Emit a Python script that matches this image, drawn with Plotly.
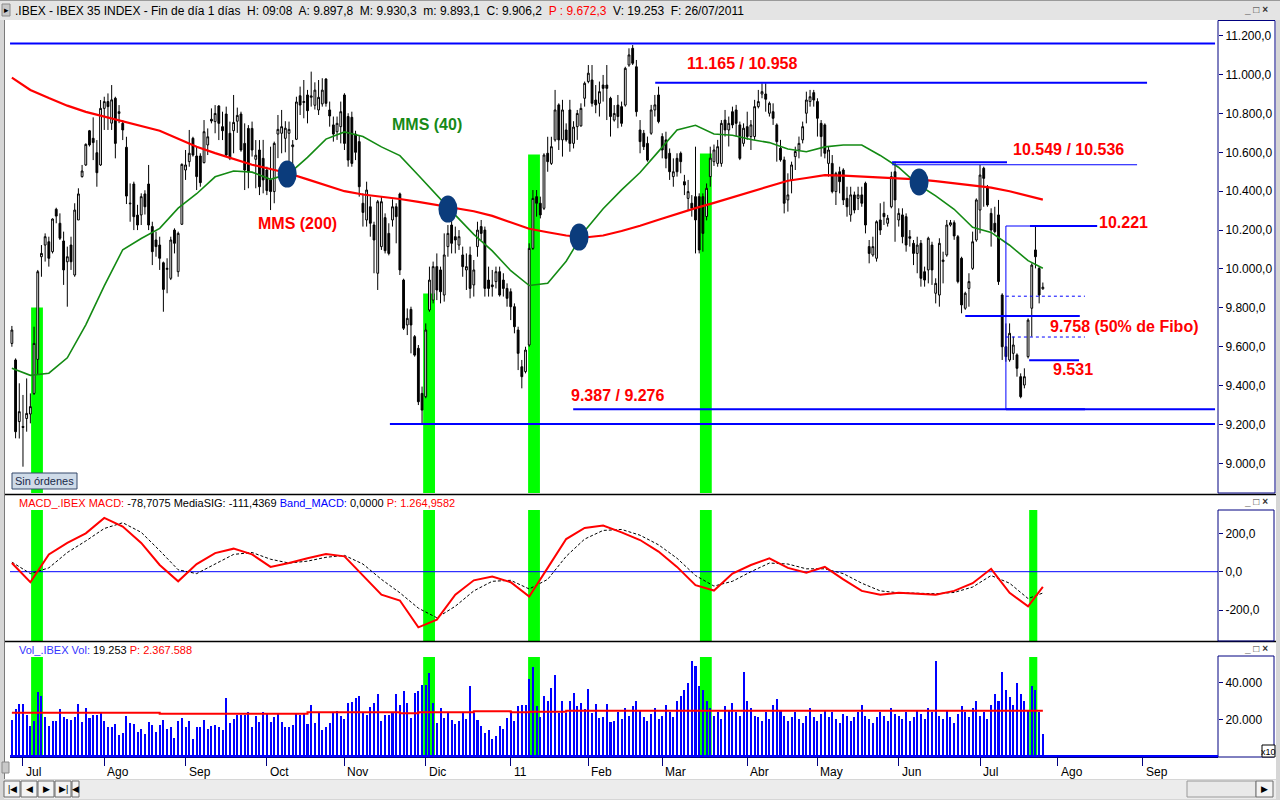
import plotly.graph_objects as go
import pandas as pd

W, H = 1280, 800
def px(x): return x / W
def py(y): return 1 - y / H

# ---------------- DATA ----------------
OPEN = [9617,9532,9215,9190,9231,9254,9360,9535,10063,10123,
10140,10089,10307,10235,10144,10037,10123,9969,10252,10475,
10535,10711,10672,10598,10535,10826,10861,10750,10878,10800,
10749,10626,10335,10437,10277,10278,10386,10437,10218,10149,
10123,10032,9998,9952,10200,9986,10230,10509,10552,10672,
10581,10581,10547,10638,10770,10758,10838,10732,10797,10698,
10711,10760,10797,10646,10723,10723,10564,10612,10569,10509,
10458,10398,10694,10698,10672,10698,10629,10667,10891,10856,
10895,10883,10842,10818,10849,10977,10818,10741,10706,10732,
10895,10784,10780,10694,10655,10338,10252,10320,10226,9978,
10115,10264,10183,10252,10320,10386,9943,9712,9792,9652,
9592,9360,9343,9789,9840,10012,9995,9866,10115,10226,
10166,10123,10072,9995,10072,9918,10115,10218,10200,9943,
9918,9935,9986,9943,9900,9883,9806,9686,9497,9472,
9609,10106,10372,10338,10312,10595,10543,10664,10844,10664,
10715,10818,10646,10732,10736,10878,10964,10972,10869,10852,
10946,10946,10878,10766,10843,10835,10843,11049,11135,11040,
10715,10698,10646,10698,10818,10895,10681,10664,10595,10475,
10569,10595,10449,10363,10338,10372,10372,10372,10270,10475,
10552,10543,10543,10766,10715,10809,10818,10741,10646,10732,
10681,10681,10835,10900,10900,10801,10809,10741,10621,10561,
10355,10458,10578,10612,10664,10801,10861,10907,10861,10749,
10741,10543,10543,10398,10500,10509,10363,10278,10381,10363,
10381,10441,10115,10072,10055,10252,10286,10235,10320,10500,
10252,10278,10269,10166,10132,10080,10132,9986,9995,10123,
9875,9866,10038,10072,10226,10238,10166,10055,9798,9900,
10003,10149,10303,10518,10423,10286,10235,10278,9866,9600,
9532,9566,9558,9446,9403,9549,9798,10098,10003,9897.8]
HIGH = [9707,9540,9412,9352,9437,9360,9703,9995,10123,10183,
10166,10260,10315,10286,10192,10115,10166,10338,10415,10535,
10646,10715,10780,10663,10869,10886,10903,10946,10886,10843,
10766,10680,10440,10449,10330,10389,10405,10535,10243,10192,
10166,10038,10055,10166,10209,10192,10543,10612,10715,10680,
10629,10595,10766,10723,10826,10843,10843,10809,10835,10758,
10895,10830,10809,10749,10740,10758,10663,10663,10664,10526,
10629,10655,10792,10818,10760,10758,10663,10886,10938,10972,
10921,11015,10960,10972,10981,10981,10861,10784,10784,10861,
10904,10801,10809,10711,10689,10389,10449,10372,10243,10355,
10372,10286,10235,10358,10338,10393,9950,9797,9806,9660,
9609,9395,9720,10012,10038,10080,10012,10183,10226,10252,
10218,10200,10115,10080,10115,10046,10243,10252,10218,10012,
9995,10012,10012,9978,9926,9900,9823,9703,9532,9600,
10132,10406,10406,10372,10595,10680,10680,10921,10852,10870,
10749,10870,10760,10818,10852,10964,11049,11049,10946,10964,
10998,11049,10886,10843,10895,10861,11040,11135,11152,11075,
10766,10715,10681,10844,10895,10938,10698,10706,10620,10569,
10595,10604,10484,10458,10380,10629,10389,10389,10440,10629,
10640,10664,10766,10818,10784,10835,10844,10758,10749,10809,
10766,10870,10921,10955,10955,10861,10852,10749,10664,10578,
10492,10552,10629,10681,10758,10912,10921,10921,10878,10766,
10749,10629,10586,10500,10526,10518,10423,10423,10398,10423,
10423,10449,10149,10166,10250,10338,10346,10278,10500,10552,
10312,10312,10286,10200,10149,10166,10149,10012,10166,10140,
9952,10158,10089,10252,10252,10250,10175,10063,9883,9978,
10192,10363,10535,10526,10432,10312,10320,10355,9875,9720,
9720,9652,9566,9463,9489,9746,10029,10226,10012,9930.3]
LOW = [9600,9129,9128,8983,9163,9206,9352,9455,9960,10038,
10012,10080,10235,10149,9918,9806,9995,9960,10252,10470,
10530,10630,10560,10423,10530,10715,10715,10715,10569,10750,
10663,10334,10243,10200,10200,10226,10280,10200,10020,10063,
9995,9780,9875,9943,10080,9960,10226,10458,10526,10578,
10406,10423,10543,10586,10749,10698,10663,10663,10578,10560,
10595,10700,10603,10406,10415,10578,10415,10380,10389,10380,
10303,10338,10570,10595,10600,10544,10492,10663,10792,10775,
10749,10835,10820,10792,10835,10835,10732,10655,10664,10646,
10612,10526,10526,10560,10372,10218,10218,10166,9978,9892,
10098,10080,10070,10218,10132,9969,9686,9660,9566,9549,
9300,9206,9335,9780,9823,9840,9823,9832,10063,10080,
10080,10098,9960,9892,9849,9858,10063,10149,9858,9858,
9858,9900,9858,9858,9806,9737,9669,9480,9386,9463,
9600,10098,10269,10260,10303,10500,10535,10655,10612,10578,
10655,10603,10620,10664,10732,10835,10955,10835,10801,10784,
10861,10766,10681,10758,10724,10732,10835,11040,11049,10784,
10595,10612,10552,10690,10784,10749,10569,10518,10458,10423,
10475,10492,10380,10303,10269,10080,10080,10089,10250,10423,
10530,10526,10526,10681,10630,10724,10681,10560,10630,10664,
10612,10664,10826,10878,10809,10784,10741,10552,10552,10286,
10295,10389,10509,10569,10646,10749,10835,10835,10681,10578,
10569,10475,10389,10329,10389,10329,10269,10243,10286,10303,
10320,10183,10029,10063,10038,10175,10226,10218,10312,10140,
10218,10132,10089,10115,10020,9978,9909,9909,9926,9918,
9823,9806,9926,10063,10218,10150,9926,9772,9790,9806,
9995,10140,10183,10320,10320,10115,10183,9918,9532,9523,
9523,9532,9446,9335,9386,9540,9652,10003,9823,9893.1]
CLOSE = [9686,9163,9266,9185,9257,9292,9617,9986,10080,10166,
10055,10257,10272,10158,9995,10063,10037,10303,10386,10504,
10641,10638,10650,10495,10826,10861,10835,10870,10646,10809,
10715,10375,10338,10269,10226,10372,10320,10226,10089,10115,
10055,9895,10003,10149,10132,10183,10538,10535,10595,10586,
10475,10444,10706,10680,10761,10800,10749,10711,10586,10569,
10754,10790,10612,10509,10500,10612,10585,10423,10458,10403,
10398,10646,10718,10732,10724,10718,10638,10859,10843,10861,
10814,10890,10920,10883,10920,10852,10787,10694,10749,10809,
10646,10560,10543,10600,10423,10291,10406,10235,10149,10346,
10346,10094,10080,10320,10269,9995,9695,9746,9712,9557,
9317,9274,9686,9943,10012,9892,9883,10072,10183,10132,
10149,10166,10012,10012,9900,9995,10200,10183,9900,9900,
9909,9986,9866,9900,9849,9806,9703,9566,9446,9583,
10106,10363,10338,10278,10586,10552,10629,10818,10664,10818,
10664,10646,10730,10800,10826,10955,11007,10852,10844,10912,
10929,10929,10784,10800,10784,10749,11032,11101,11058,10809,
10655,10629,10560,10818,10844,10758,10612,10569,10500,10500,
10500,10552,10432,10398,10312,10252,10098,10183,10415,10570,
10612,10629,10749,10715,10749,10741,10749,10569,10724,10681,
10741,10835,10861,10912,10873,10852,10775,10655,10561,10338,
10381,10535,10604,10646,10732,10869,10886,10869,10775,10681,
10595,10612,10398,10492,10449,10355,10320,10381,10303,10381,
10338,10226,10080,10115,10243,10200,10269,10261,10475,10355,
10286,10166,10123,10158,10080,10123,9952,9943,10158,9995,
9926,10132,10046,10226,10238,10170,9935,9815,9875,9935,
10140,10355,10483,10466,10329,10200,10192,9935,9600,9549,
9669,9609,9489,9343,9446,9737,10020,10063,9866,9906.2]
VOLUME = [19623,25450,28364,28364,22355,16345,19259,34919,32734,21080,
16345,19259,19259,25450,21444,20169,19623,21080,28364,18713,
26178,20534,22355,22355,24176,19259,15617,15617,17438,11429,
12704,21809,17802,17438,13250,14525,11975,18713,16892,13250,
16892,19623,14525,15617,9608,19259,20534,15617,19259,9062,
15617,15617,19623,14525,16345,16892,15981,14160,31459,17802,
20000,22355,22355,22355,23994,15617,21809,18713,23994,23265,
18713,21444,22901,18713,15981,15617,16892,23265,22355,23265,
17438,27818,18166,23265,14160,15617,18166,23265,24358,21809,
20169,29092,29638,31459,32734,23265,22355,26543,29092,33827,
19259,22355,22355,23994,33827,27818,35466,28728,20534,34191,
35648,38743,38743,45481,28728,18166,25996,20534,23265,19623,
17438,19259,23265,20169,38197,23265,19623,16345,12704,14160,
9062,10883,16345,14525,20534,24540,19259,27271,27818,27818,
41839,48395,27271,21080,32734,30185,37105,44206,23265,30185,
23629,30185,34191,27271,29092,25450,36376,23629,28364,20534,
21080,28364,18713,19259,
24000,20000,26000,22000,27000,30000,25000,21000,19000,23000,
26000,20000,22000,28000,24000,21000,30000,33000,36000,40000,
52000,49000,38000,36000,30000,26000,22000,24000,20000,27000,
25000,29000,24000,22000,46000,30000,
26000,22000,21000,19000,24000,20000,28000,31000,25000,22000,
19000,21000,24000,20000,18000,22000,26000,21000,19000,23000,
25000,21000,24000,20000,18000,23000,22000,19000,21000,24000,
28000,22000,20000,18000,21000,24000,22000,19000,26000,23000,
22000,20000,24000,19000,21000,25000,23000,20000,26000,24000,
52000,22000,20000,25000,21000,18000,23000,27000,24000,21000,
26000,30000,22000,24000,20000,28000,34000,30000,46000,36000,
32000,28000,40000,34000,30000,25000,38000,36000,24000,12000]

# indicators read every 5 sessions (+ last session)
MMS200 = [10984,10921,10879,10840,10808,10784,10760,10736,10711,10670,
10629,10596,10564,10536,10514,10491,10461,10431,10400,10383,
10372,10360,10345,10330,10315,10297,10273,10240,10207,10189,
10172,10162,10172,10195,10222,10253,10284,10313,10340,10369,
10398,10429,10454,10468,10483,10480,10475,10471,10466,10461,
10452,10441,10429,10418,10400,10378,10357]
MMS40 = [9489,9453,9464,9543,9713,9913,10099,10157,10209,10313,
10387,10474,10504,10498,10461,10490,10574,10668,10705,10681,
10628,10583,10482,10378,10277,10178,10093,9991,9915,9926,
10040,10196,10310,10407,10496,10605,10715,10739,10694,10688,
10666,10650,10617,10603,10628,10638,10638,10584,10522,10437,
10376,10307,10214,10188,10122,10043,10004]
MACD = [45,-55,90,150,200,280,235,150,35,-50,
40,97,120,90,25,45,70,92,80,-20,
-120,-150,-290,-250,-120,-45,-25,-55,-130,20,
170,228,240,205,165,105,25,-70,-98,-10,
35,70,20,-5,25,-40,-100,-120,-110,-115,
-120,-100,-60,15,-110,-180,-79]
MACD_SIG = [50,-10,20,100,160,225,255,205,110,10,
-10,40,90,100,65,45,55,75,85,40,
-40,-110,-190,-240,-180,-100,-50,-45,-90,-40,
80,170,215,220,190,140,70,-20,-75,-50,
0,45,40,15,15,-10,-60,-100,-110,-112,
-115,-108,-80,-20,-60,-140,-111]
VOL_AVG = [23630]*8 + [23080]*8 + [23810]*5 + [23270] + [23810]*3 + [24360]*2 + [23810] + [24180]*2 + [24720]*27

MONTH_LABELS = ["Jul","Ago","Sep","Oct","Nov","Dic","11","Feb","Mar","Abr","May","Jun","Jul","Ago","Sep"]
PRICE_TICKS = [9000,9200,9400,9600,9800,10000,10200,10400,10600,10800,11000,11200]
PRICE_TICKTEXT = ["9.000,0","9.200,0","9.400,0","9.600,0","9.800,0","10.000,0","10.200,0",
                  "10.400,0","10.600,0","10.800,0","11.000,0","11.200,0"]
MACD_TICKS = [-200,0,200]
MACD_TICKTEXT = ["-200,0","0,0","200,0"]
VOL_TICKS = [20000,40000]
VOL_TICKTEXT = ["20.000","40.000"]

# support / resistance levels (price, from session, to session, width)
LEVELS = [(11160,-0.5,325.6,2),(10958,174.1,307.2,2),(10549,238.2,269.3,2),(10536,238.2,304.5,1),
          (10221,275.5,293.7,2),(10221,269.0,275.5,1),(9758,258.0,289.0,2),(9531,275.3,288.8,2),
          (9279,269.0,290.4,2),(9279,151.9,325.6,2),(9202,102.3,325.6,2)]
FIBO_DASHED = [(9860,269.0,290.4),(9650,269.0,290.4)]
FIBO_VERT = (269.0, 9279, 10221)
CROSSES = [(74.5,10488),(118.0,10308),(153.5,10164),(245.5,10447)]
HIGHLIGHTS = [(6.8,9802,1.6),(112.9,9874,1.6),(141.3,10589,1.6),(187.8,10594,1.6),(276.4,None,1.1)]
LABELS = [("MMS (200)",77.4,10236,"#ff0000","center"),("MMS (40)",112.3,10745,"#178a17","center"),
          ("11.165 / 10.958",182.2,11055,"#ff0000","left"),("10.549 / 10.536",270.3,10615,"#ff0000","left"),
          ("10.221",293.7,10240,"#ff0000","left"),("9.758 (50% de Fibo)",280.5,9706,"#ff0000","left"),
          ("9.531",281.2,9485,"#ff0000","left"),("9.387 / 9.276",150.9,9350,"#ff0000","left")]

# ---------------- build ----------------
HOLIDAYS = pd.to_datetime(["2011-04-22", "2011-04-25"])
sessions = pd.bdate_range("2010-06-28", "2011-09-30")
sessions = sessions[~sessions.isin(HOLIDAYS)]
N = len(CLOSE)
xs = list(range(N))
month_idx = [i for i in range(1, len(sessions)) if sessions[i].month != sessions[i-1].month]
ma_x = list(range(0, N, 5)) + [N - 1]

XR = [-0.51, 326.4]
PR = [8847.7, 11280.6]
MR = [-361, 399.5]
VR = [-601, 61687]
FONT = "Arial, Liberation Sans, sans-serif"
NAVY = "#000080"

fig = go.Figure()
fig.add_trace(go.Candlestick(x=xs, open=OPEN, high=HIGH, low=LOW, close=CLOSE,
    increasing=dict(line=dict(color="black", width=1), fillcolor="white"),
    decreasing=dict(line=dict(color="black", width=1), fillcolor="black"),
    whiskerwidth=0, xaxis="x", yaxis="y", showlegend=False, hoverinfo="skip"))
fig.add_trace(go.Scatter(x=ma_x, y=MMS200, mode="lines", line=dict(color="#ff0000", width=2.2),
                         xaxis="x", yaxis="y", showlegend=False, hoverinfo="skip"))
fig.add_trace(go.Scatter(x=ma_x, y=MMS40, mode="lines", line=dict(color="#138a13", width=1.6),
                         xaxis="x", yaxis="y", showlegend=False, hoverinfo="skip"))
fig.add_trace(go.Scatter(x=ma_x, y=MACD_SIG, mode="lines", line=dict(color="black", width=1, dash="3px,2px"),
                         xaxis="x2", yaxis="y2", showlegend=False, hoverinfo="skip"))
fig.add_trace(go.Scatter(x=ma_x, y=MACD, mode="lines", line=dict(color="#ff0000", width=2),
                         xaxis="x2", yaxis="y2", showlegend=False, hoverinfo="skip"))
fig.add_trace(go.Bar(x=xs, y=VOLUME, width=0.55, marker=dict(color="#0000ff", line=dict(width=0)),
                     xaxis="x3", yaxis="y3", showlegend=False, hoverinfo="skip"))
fig.add_trace(go.Scatter(x=ma_x, y=VOL_AVG, mode="lines", line=dict(color="#ff0000", width=2, shape="hv"),
                         xaxis="x3", yaxis="y3", showlegend=False, hoverinfo="skip"))

shapes = []
def prect(x0, y0, x1, y1, fill=None, line=None, lw=1, layer="below"):
    shapes.append(dict(type="rect", xref="paper", yref="paper", x0=px(x0), x1=px(x1), y0=py(y1), y1=py(y0),
                       fillcolor=fill or "rgba(0,0,0,0)", line=dict(color=line or "rgba(0,0,0,0)", width=lw if line else 0),
                       layer=layer))
def pline(x0, y0, x1, y1, color, lw=1, layer="above"):
    shapes.append(dict(type="line", xref="paper", yref="paper", x0=px(x0), x1=px(x1), y0=py(y0), y1=py(y1),
                       line=dict(color=color, width=lw), layer=layer))

# window chrome
prect(0, 0, 1280, 800, fill="#d6d6d6")
prect(0, 0, 1280, 20, fill="#e4e4e4")
pline(0, 0.5, 1280, 0.5, "#9a9a9a", 1)
prect(4, 20, 1276, 779, fill="white")
prect(4, 780, 1276, 799, fill="#ececec")
pline(4, 494.5, 1276, 494.5, "black", 1.5)
pline(4, 641.5, 1276, 641.5, "black", 1.5)
pline(4.5, 20, 4.5, 779, "#7a7a7a", 1)
# right axis boxes
prect(1218, 20.5, 1275, 493, line=NAVY, layer="above")
prect(1218, 510, 1274, 641, line=NAVY, layer="above")
prect(1218, 656, 1274, 757, line=NAVY, layer="above")
prect(1262, 745, 1275, 757, fill="white", line="black", layer="above")
# sin ordenes box
prect(12, 473, 77, 489, fill="#cfdbe8", line="#34496b", layer="above")
# small icons
prect(2, 4, 10, 16, fill="#c8c8c8", line="#8a8a8a", layer="above")
prect(2, 762, 9, 773, fill="#c8c8c8", line="#8a8a8a", layer="above")
for bx in [4, 21, 38, 55]:
    prect(bx, 781, bx + 16, 797, fill="#f4f4f4", line="#6a6a6a", layer="above")
prect(72, 781, 79, 797, fill="#f4f4f4", line="#6a6a6a", layer="above")
prect(1187, 781, 1256, 797, fill="#e9e9e9", line="#9a9a9a", layer="above")
prect(1256, 781, 1273, 797, fill="#f4f4f4", line="#6a6a6a", layer="above")

# highlights
for cx, top, hw in HIGHLIGHTS:
    if top is not None:
        shapes.append(dict(type="rect", xref="x", yref="y", x0=cx - hw, x1=cx + hw, y0=PR[0], y1=top,
                           fillcolor="#00ff00", line=dict(width=0), layer="below"))
    shapes.append(dict(type="rect", xref="x2", yref="y2", x0=cx - hw, x1=cx + hw, y0=MR[0], y1=321,
                       fillcolor="#00ff00", line=dict(width=0), layer="below"))
    shapes.append(dict(type="rect", xref="x3", yref="y3", x0=cx - hw, x1=cx + hw, y0=VR[0], y1=54000,
                       fillcolor="#00ff00", line=dict(width=0), layer="below"))
# MACD zero line
shapes.append(dict(type="line", xref="x2", yref="y2", x0=XR[0], x1=XR[1], y0=0, y1=0,
                   line=dict(color="#0000ff", width=1), layer="below"))
shapes.append(dict(type="line", xref="x3", yref="y3", x0=XR[0], x1=XR[1], y0=0, y1=0,
                   line=dict(color="#0000ff", width=2), layer="above"))
# levels
for val, a, b, lw in LEVELS:
    shapes.append(dict(type="line", xref="x", yref="y", x0=a, x1=b, y0=val, y1=val,
                       line=dict(color="#0000ff", width=lw), layer="above"))
for val, a, b in FIBO_DASHED:
    shapes.append(dict(type="line", xref="x", yref="y", x0=a, x1=b, y0=val, y1=val,
                       line=dict(color="#0000ff", width=1, dash="3px,3px"), layer="above"))
shapes.append(dict(type="line", xref="x", yref="y", x0=FIBO_VERT[0], x1=FIBO_VERT[0], y0=FIBO_VERT[1],
                   y1=FIBO_VERT[2], line=dict(color="#0000ff", width=1), layer="above"))
for cx, cy in CROSSES:
    shapes.append(dict(type="circle", xref="x", yref="y", xsizemode="pixel", ysizemode="pixel",
                       xanchor=cx, yanchor=cy, x0=-9.5, x1=9.5, y0=-13.5, y1=13.5,
                       fillcolor="#0b3c7c", line=dict(width=0), layer="above"))

ann = []
for text, x, y, col, anc in LABELS:
    ann.append(dict(text=f"<b>{text}</b>", x=x, y=y, xref="x", yref="y", xanchor=anc, yanchor="middle",
                    showarrow=False, font=dict(family=FONT, size=16, color=col)))
def ptext(text, x, y, size=12, color="black", anchor="left"):
    ann.append(dict(text=text, x=px(x), y=py(y), xref="paper", yref="paper", xanchor=anchor, yanchor="middle",
                    showarrow=False, font=dict(family=FONT, size=size, color=color)))
sp = "&nbsp; "
ptext(".IBEX - IBEX 35 INDEX - Fin de día 1 días" + sp + "H: 09:08" + sp + "A: 9.897,8" + sp + "M: 9.930,3" + sp
      + "m: 9.893,1" + sp + "C: 9.906,2" + sp + "<span style='color:#ff0000'>P : 9.672,3</span>" + sp
      + "V: 19.253" + sp + "F: 26/07/2011", 13, 10.5, 12)
ptext("<span style='color:#ff0000'>MACD_.IBEX MACD:</span> -78,7075 MediaSIG: -111,4369 "
      "<span style='color:#0000ff'>Band_MACD:</span> 0,0000 <span style='color:#ff0000'>P: 1.264,9582</span>",
      17, 502.5, 11)
ptext("<span style='color:#3333ff'>Vol_.IBEX Vol:</span> 19.253 <span style='color:#ff0000'>P: 2.367.588</span>",
      17, 649.5, 11)
ptext("Sin órdenes", 44.5, 481, 11, "#1a2a4a", "center")
ptext("x10", 1268.5, 751.5, 9, "black", "center")
for y0 in (10, 502, 648):
    ptext("<b>_ □ ×</b>", 1256, y0, 10, "#333333", "center")
for i, lab in zip(month_idx, MONTH_LABELS):
    ann.append(dict(text=lab, x=i, y=py(772), xref="x3", yref="paper", xanchor="left", yanchor="middle",
                    xshift=1, showarrow=False, font=dict(family=FONT, size=12, color="black")))
for bx, g in [(12, "|◀"), (29, "◀"), (46, "▶"), (63, "▶|"), (75.5, "◀")]:
    ptext(g, bx, 789, 9, "black", "center")
ptext("▶", 1264.5, 789, 9, "black", "center")
ptext("▸", 6, 10, 9, "black", "center")

axis_common = dict(showgrid=False, zeroline=False)
fig.update_layout(
    width=W, height=H, margin=dict(l=0, r=0, t=0, b=0),
    paper_bgcolor="white", plot_bgcolor="rgba(0,0,0,0)",
    showlegend=False, dragmode=False, bargap=0,
    xaxis=dict(domain=[px(10), px(1218)], range=XR, anchor="y", showticklabels=False, ticks="",
               rangeslider=dict(visible=False), **axis_common),
    xaxis2=dict(domain=[px(10), px(1218)], range=XR, matches="x", anchor="y2", showticklabels=False, ticks="",
                **axis_common),
    xaxis3=dict(domain=[px(10), px(1218)], range=XR, matches="x", anchor="y3", showticklabels=False,
                tickmode="array", tickvals=month_idx, ticks="outside", ticklen=8, tickcolor=NAVY, tickwidth=1,
                showline=True, linecolor=NAVY, linewidth=1, **axis_common),
    yaxis=dict(domain=[py(493), py(20)], range=PR, side="right", anchor="x", tickmode="array",
               tickvals=PRICE_TICKS, ticktext=PRICE_TICKTEXT, ticks="outside", ticklen=4, tickcolor=NAVY,
               tickfont=dict(family=FONT, size=12, color="black"), **axis_common),
    yaxis2=dict(domain=[py(641), py(495)], range=MR, side="right", anchor="x2", tickmode="array",
                tickvals=MACD_TICKS, ticktext=MACD_TICKTEXT, ticks="outside", ticklen=4, tickcolor=NAVY,
                tickfont=dict(family=FONT, size=12, color="black"), **axis_common),
    yaxis3=dict(domain=[py(757), py(643)], range=VR, side="right", anchor="x3", tickmode="array",
                tickvals=VOL_TICKS, ticktext=VOL_TICKTEXT, ticks="outside", ticklen=4, tickcolor=NAVY,
                tickfont=dict(family=FONT, size=12, color="black"), **axis_common),
    shapes=shapes, annotations=ann,
)
fig.write_html("out.html", config={"displayModeBar": False, "staticPlot": True},
               post_script="document.body.style.margin='0px';document.body.style.overflow='hidden';")
